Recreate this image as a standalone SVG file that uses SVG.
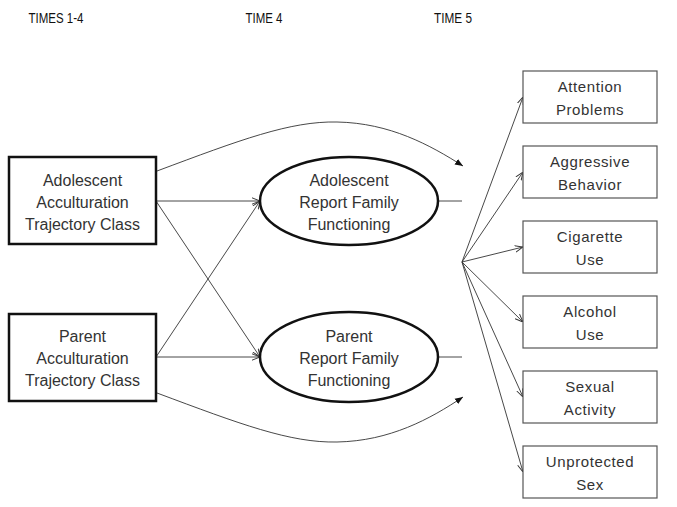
<svg xmlns="http://www.w3.org/2000/svg" width="677" height="507" viewBox="0 0 677 507">
<defs>
<style>
.hdr{font-family:"Liberation Sans",Arial,sans-serif;font-size:15.5px;fill:#111;text-anchor:middle}
.main{font-family:"Liberation Sans",Arial,sans-serif;font-size:16px;fill:#333;text-anchor:middle}
.out{font-family:"Liberation Sans",Arial,sans-serif;font-size:15px;fill:#333;text-anchor:middle;letter-spacing:0.6px}
.bigbox{fill:#fff;stroke:#111;stroke-width:2.5}
.ell{fill:#fff;stroke:#111;stroke-width:2.5}
.obox{fill:#fff;stroke:#555;stroke-width:1.2}
.ln{fill:none;stroke:#333;stroke-width:0.9}
</style>
<marker id="v" viewBox="0 0 10 10" refX="10" refY="5" markerWidth="8" markerHeight="8" markerUnits="userSpaceOnUse" orient="auto">
<path d="M0,1 L10,5 L0,9" fill="none" stroke="#333" stroke-width="1.2"/>
</marker>
<marker id="f" viewBox="0 0 10 10" refX="10" refY="5" markerWidth="8" markerHeight="8" markerUnits="userSpaceOnUse" orient="auto">
<path d="M0,1 L10,5 L0,9 z" fill="#111"/>
</marker>
</defs>
<g id="headers">
<text class="hdr" x="56" y="23" textLength="55" lengthAdjust="spacingAndGlyphs">TIMES 1-4</text>
<text class="hdr" x="264" y="23" textLength="37" lengthAdjust="spacingAndGlyphs">TIME 4</text>
<text class="hdr" x="453" y="23" textLength="38" lengthAdjust="spacingAndGlyphs">TIME 5</text>
</g>
<g id="connectors">
<path class="ln" d="M157,171 C240,140 290,121 337,122 C390,123 430,145 463,166" marker-end="url(#f)"/>
<path class="ln" d="M157,393 C240,424 290,443 337,442 C390,441 430,419 463,397" marker-end="url(#f)"/>
<line class="ln" x1="156" y1="201" x2="260" y2="201" marker-end="url(#v)"/>
<line class="ln" x1="156" y1="201" x2="260" y2="357" marker-end="url(#v)"/>
<line class="ln" x1="156" y1="357" x2="260" y2="201" marker-end="url(#v)"/>
<line class="ln" x1="156" y1="357" x2="260" y2="357" marker-end="url(#v)"/>
<line class="ln" x1="438" y1="201" x2="462" y2="201"/>
<line class="ln" x1="438" y1="357" x2="462" y2="357"/>
<line class="ln" x1="462" y1="262" x2="523" y2="97" marker-end="url(#v)"/>
<line class="ln" x1="462" y1="262" x2="523" y2="172" marker-end="url(#v)"/>
<line class="ln" x1="462" y1="262" x2="523" y2="247" marker-end="url(#v)"/>
<line class="ln" x1="462" y1="262" x2="523" y2="322" marker-end="url(#v)"/>
<line class="ln" x1="462" y1="262" x2="523" y2="397" marker-end="url(#v)"/>
<line class="ln" x1="462" y1="262" x2="523" y2="472" marker-end="url(#v)"/>
</g>
<g id="adolescent-class">
<rect class="bigbox" x="9" y="157" width="147" height="87"/>
<text class="main" x="82.5" y="186">Adolescent</text>
<text class="main" x="82.5" y="208">Acculturation</text>
<text class="main" x="82.5" y="230" textLength="115" lengthAdjust="spacingAndGlyphs">Trajectory Class</text>
</g>
<g id="parent-class">
<rect class="bigbox" x="9" y="314" width="147" height="87"/>
<text class="main" x="82.5" y="342">Parent</text>
<text class="main" x="82.5" y="364">Acculturation</text>
<text class="main" x="82.5" y="386" textLength="115" lengthAdjust="spacingAndGlyphs">Trajectory Class</text>
</g>
<g id="adolescent-family">
<ellipse class="ell" cx="349" cy="201" rx="89" ry="44"/>
<text class="main" x="349" y="186">Adolescent</text>
<text class="main" x="349" y="208">Report Family</text>
<text class="main" x="349" y="230">Functioning</text>
</g>
<g id="parent-family">
<ellipse class="ell" cx="349" cy="357" rx="89" ry="45"/>
<text class="main" x="349" y="342">Parent</text>
<text class="main" x="349" y="364">Report Family</text>
<text class="main" x="349" y="386">Functioning</text>
</g>
<g id="attention">
<rect class="obox" x="523" y="71" width="134" height="52"/>
<text class="out" x="590" y="92">Attention</text>
<text class="out" x="590" y="115">Problems</text>
</g>
<g id="aggressive">
<rect class="obox" x="523" y="146" width="134" height="52"/>
<text class="out" x="590" y="167">Aggressive</text>
<text class="out" x="590" y="190">Behavior</text>
</g>
<g id="cigarette">
<rect class="obox" x="523" y="221" width="134" height="52"/>
<text class="out" x="590" y="242">Cigarette</text>
<text class="out" x="590" y="265">Use</text>
</g>
<g id="alcohol">
<rect class="obox" x="523" y="296" width="134" height="52"/>
<text class="out" x="590" y="317">Alcohol</text>
<text class="out" x="590" y="340">Use</text>
</g>
<g id="sexual">
<rect class="obox" x="523" y="371" width="134" height="52"/>
<text class="out" x="590" y="392">Sexual</text>
<text class="out" x="590" y="415">Activity</text>
</g>
<g id="unprotected">
<rect class="obox" x="523" y="446" width="134" height="52"/>
<text class="out" x="590" y="467">Unprotected</text>
<text class="out" x="590" y="490">Sex</text>
</g>
</svg>
